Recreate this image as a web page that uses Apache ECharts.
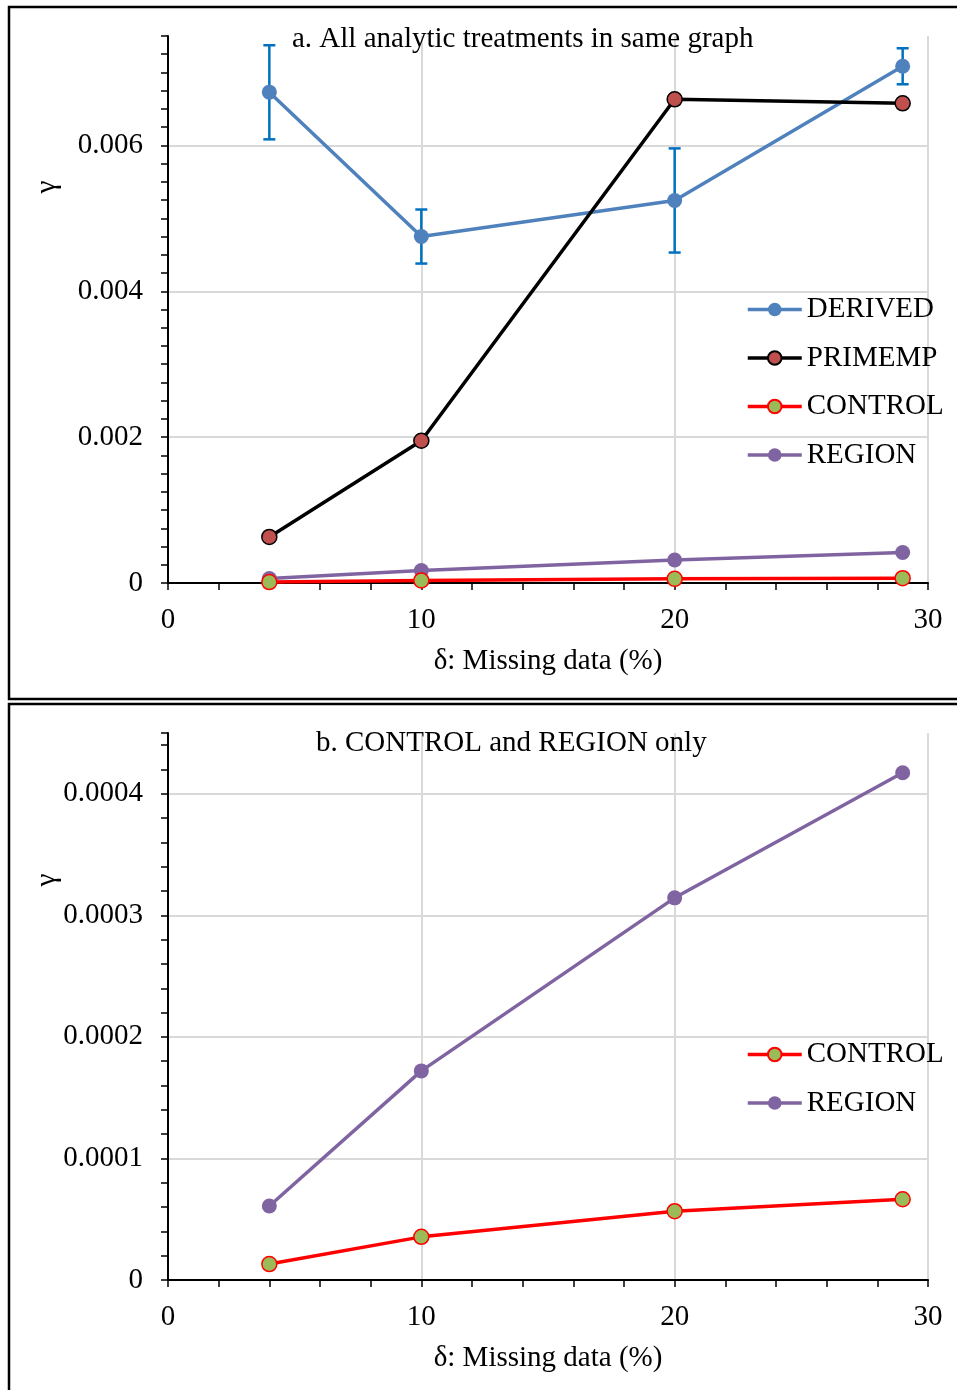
<html>
<head>
<meta charset="utf-8" />
<script src="https://cdn.jsdelivr.net/npm/echarts@6/dist/echarts.min.js"></script>
<style>
  body { margin: 0; background: #fff; }
</style>
</head>
<body>
<div id="main" style="width:957px;height:1390px;"></div>
<script type="text/javascript">
// missing data (%) for every series
var missing = [4, 10, 20, 29];

// gamma values
var derived = [0.00673, 0.00475, 0.005245, 0.007085];
var derivedLow = [0.006083, 0.00438, 0.004531, 0.006838];
var derivedHigh = [0.007373, 0.005121, 0.005959, 0.007332];
var primemp = [0.000632, 0.00195, 0.006632, 0.006577];
var control = [0.0000131, 0.0000355, 0.0000566, 0.0000664];
var region = [0.0000609, 0.000172, 0.0003144, 0.0004173];

var xTickLabels = [0, 10, 20, 30];

var FONT = 'Liberation Serif';
var FS = 29;
var myChart = echarts.init(document.getElementById('main'));

function pairs(ys) {
  return missing.map(function (x, i) { return [x, ys[i]]; });
}

// only show labels at the major steps
function majorFmt(major) {
  return function (v) {
    var k = Math.round(v / major);
    if (Math.abs(v / major - k) > 1e-6) return '';
    return k === 0 ? '0' : String(+(k * major).toFixed(6));
  };
}

function mainX(grid) {
  return {
    type: 'value', gridIndex: grid, min: 0, max: 30, interval: 2,
    axisLine: { show: true, onZero: false, lineStyle: { color: '#000', width: 2 } },
    axisTick: { show: true, length: 7, lineStyle: { color: '#000', width: 1.5 } },
    axisLabel: { margin: 23, fontFamily: FONT, fontSize: FS, color: '#000',
      formatter: function (v) { return xTickLabels.indexOf(v) >= 0 ? String(v) : ''; } },
    splitLine: { show: false },
    name: 'δ: Missing data (%)', nameLocation: 'middle', nameGap: 64,
    nameTextStyle: { fontFamily: FONT, fontSize: FS, color: '#000' }
  };
}
function gridX(grid) {
  return {
    type: 'value', gridIndex: grid, min: 0, max: 30, interval: 10,
    axisLine: { show: false }, axisTick: { show: false }, axisLabel: { show: false },
    splitLine: { show: true, showMinLine: false, lineStyle: { color: '#d9d9d9', width: 2 } }
  };
}
function mainY(grid, max, step, major) {
  return {
    type: 'value', gridIndex: grid, min: 0, max: max, interval: step,
    axisLine: { show: true, onZero: false, lineStyle: { color: '#000', width: 2 } },
    axisTick: { show: true, length: 7, lineStyle: { color: '#000', width: 1.5 } },
    axisLabel: { margin: 25, fontFamily: FONT, fontSize: FS, color: '#000',
      formatter: majorFmt(major) },
    splitLine: { show: false }
  };
}
function gridY(grid, max, major) {
  return {
    type: 'value', gridIndex: grid, min: 0, max: max, interval: major,
    axisLine: { show: false }, axisTick: { show: false }, axisLabel: { show: false },
    splitLine: { show: true, showMinLine: false, showMaxLine: false,
      lineStyle: { color: '#d9d9d9', width: 2 } }
  };
}

function lineSeries(name, ys, color, fill, border, xi, yi) {
  return {
    name: name, type: 'line', xAxisIndex: xi, yAxisIndex: yi, z: 3,
    data: pairs(ys),
    symbol: 'circle', symbolSize: 15,
    lineStyle: { color: color, width: 3.5 },
    itemStyle: { color: fill, borderColor: border, borderWidth: border === fill ? 0 : 1.5 }
  };
}

var legendStyle = {
  orient: 'vertical', left: 746, padding: 0, itemGap: 19.5,
  itemWidth: 54, itemHeight: 17,
  lineStyle: { width: 3.5 },
  textStyle: { fontFamily: FONT, fontSize: FS, color: '#000', lineHeight: 29 }
};

myChart.setOption({
  animation: false,
  backgroundColor: '#fff',
  title: [
    { text: 'a. All analytic treatments in same graph', left: 292, top: 25, padding: 0,
      textStyle: { fontFamily: FONT, fontSize: FS, fontWeight: 'normal', color: '#000' } },
    { text: 'b. CONTROL and REGION only', left: 316, top: 729, padding: 0,
      textStyle: { fontFamily: FONT, fontSize: FS, fontWeight: 'normal', color: '#000' } }
  ],
  legend: [
    Object.assign({ top: 295, data: ['DERIVED', 'PRIMEMP', 'CONTROL', 'REGION'] }, legendStyle),
    Object.assign({ top: 1040, data: ['CONTROL', 'REGION'] }, legendStyle)
  ],
  grid: [
    { left: 168, right: 29, top: 36, bottom: 807 },
    { left: 168, right: 29, top: 733, bottom: 110 }
  ],
  xAxis: [mainX(0), gridX(0), mainX(1), gridX(1)],
  yAxis: [
    mainY(0, 0.0075, 0.00025, 0.002), gridY(0, 0.0075, 0.002),
    mainY(1, 0.00045, 0.00002, 0.0001), gridY(1, 0.00045, 0.0001)
  ],
  graphic: [
    { type: 'rect', silent: true, shape: { x: 9, y: 7, width: 980, height: 692 },
      style: { fill: null, stroke: '#000', lineWidth: 2.5 } },
    { type: 'rect', silent: true, shape: { x: 9, y: 704, width: 980, height: 720 },
      style: { fill: null, stroke: '#000', lineWidth: 2.5 } },
    { type: 'text', x: 47, y: 187, rotation: Math.PI / 2, silent: true,
      style: { text: 'γ', fontFamily: FONT, fontSize: FS, fill: '#000', align: 'center', verticalAlign: 'middle' } },
    { type: 'text', x: 47, y: 880, rotation: Math.PI / 2, silent: true,
      style: { text: 'γ', fontFamily: FONT, fontSize: FS, fill: '#000', align: 'center', verticalAlign: 'middle' } }
  ],
  series: [
    {
      name: 'DERIVED error', type: 'custom', xAxisIndex: 0, yAxisIndex: 0, z: 2,
      data: missing.map(function (x, i) { return [x, derivedLow[i], derivedHigh[i]]; }),
      renderItem: function (params, api) {
        var lo = api.coord([api.value(0), api.value(1)]);
        var hi = api.coord([api.value(0), api.value(2)]);
        var w = 6;
        var st = { stroke: '#0070C0', lineWidth: 2.5 };
        return { type: 'group', children: [
          { type: 'line', shape: { x1: lo[0], y1: lo[1], x2: hi[0], y2: hi[1] }, style: st },
          { type: 'line', shape: { x1: lo[0] - w, y1: lo[1], x2: lo[0] + w, y2: lo[1] }, style: st },
          { type: 'line', shape: { x1: hi[0] - w, y1: hi[1], x2: hi[0] + w, y2: hi[1] }, style: st }
        ] };
      }
    },
    lineSeries('DERIVED', derived, '#4F81BD', '#4F81BD', '#4F81BD', 0, 0),
    lineSeries('PRIMEMP', primemp, '#000000', '#C0504D', '#000000', 0, 0),
    lineSeries('REGION', region, '#8064A2', '#8064A2', '#8064A2', 0, 0),
    lineSeries('CONTROL', control, '#FF0000', '#9BBB59', '#FF0000', 0, 0),
    lineSeries('REGION', region, '#8064A2', '#8064A2', '#8064A2', 2, 2),
    lineSeries('CONTROL', control, '#FF0000', '#9BBB59', '#FF0000', 2, 2)
  ]
});
</script>
</body>
</html>
